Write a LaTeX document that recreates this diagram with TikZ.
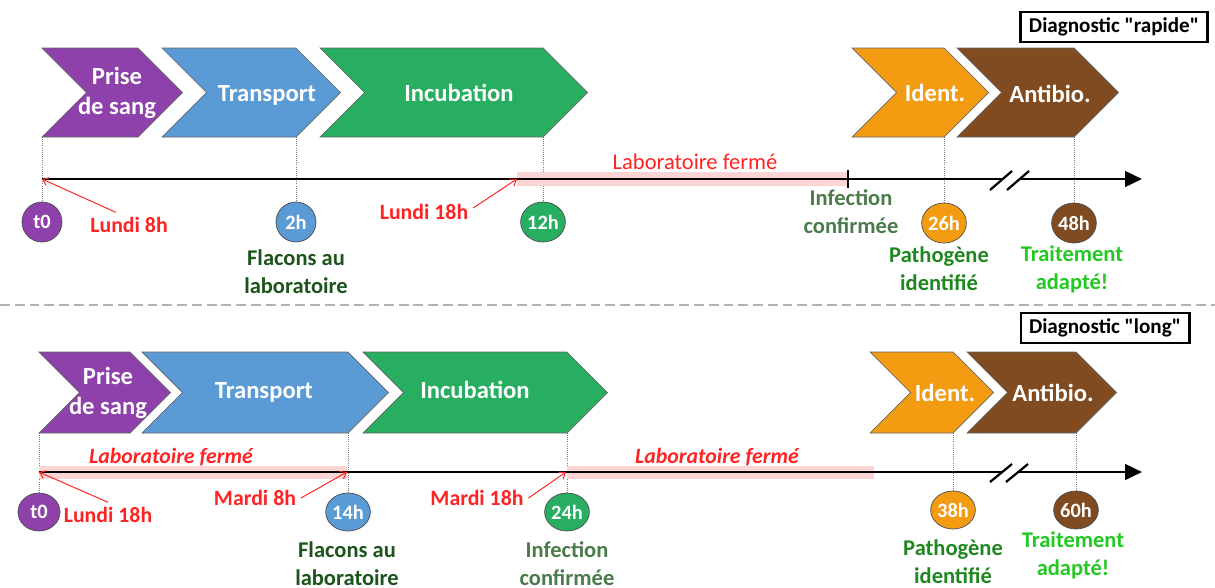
\documentclass[tikz,border=0pt]{standalone}
\usepackage{fontspec}
\setmainfont{Carlito}[Ligatures=TeXOff]
\usetikzlibrary{arrows.meta}
\usetikzlibrary{calc,shapes.geometric}

\definecolor{cpurple}{RGB}{142,65,170}
\definecolor{cblue}{RGB}{91,155,213}
\definecolor{cgreen}{RGB}{39,174,96}
\definecolor{corange}{RGB}{243,156,18}
\definecolor{cbrown}{RGB}{128,75,32}
\definecolor{cred}{RGB}{255,35,35}
\definecolor{cband}{RGB}{252,212,212}
\definecolor{gdark}{RGB}{28,84,28}
\definecolor{ggray}{RGB}{75,122,75}
\definecolor{gmid}{RGB}{32,135,32}
\definecolor{glight}{RGB}{35,200,35}

\newcommand{\chevron}[6]{%
  \pgfmathsetmacro{\chmid}{(#5+#6)/2}%
  \pgfmathsetmacro{\chdep}{(#6-#5)/2}%
  \filldraw[fill=#2,draw=black!60,line width=0.5pt] (#3,#5) -- (#4,#5) -- (#4+\chdep,\chmid) -- (#4,#6) -- (#3,#6) -- (#3+\chdep,\chmid) -- cycle;
  \coordinate (#1-bl) at (#3,#6);
  \coordinate (#1-br) at (#4,#6);
}

\tikzset{
  steptext/.style={text=white,font=\bfseries\fontsize{17.5}{21}\selectfont,align=center},
  hourdot/.style={ellipse,draw=black!70,line width=0.5pt,minimum width=1cm,minimum height=1cm,inner sep=0pt,text=white,font=\bfseries\fontsize{14.5}{17}\selectfont},
  gridline/.style={gray,densely dotted,line width=0.5pt},
  axisline/.style={line width=2pt,-{Triangle[length=12pt,width=11pt]}},
  closedband/.style={fill=cband},
  redlabel/.style={text=cred,font=\bfseries\fontsize{15.5}{18}\selectfont},
  callout/.style={cred,line width=0.7pt,-{Straight Barb[length=4pt,width=6pt]}},
  outcome/.style={font=\bfseries\fontsize{16}{20}\selectfont,align=center},
  diagbox/.style={draw,line width=1.5pt,font=\bfseries\fontsize{15}{18}\selectfont,minimum height=0.73cm,inner xsep=6pt,inner ysep=2pt},
  breakmark/.style={line width=1.6pt},
  separator/.style={gray!60,line width=2pt,dash pattern=on 7pt off 3.5pt},
}

\begin{document}
\begin{tikzpicture}[x=0.025cm,y=-0.025cm]
	\useasboundingbox (0,0) rectangle (1215,587);

	% diagnostic rapide
	\node[diagbox] (diaga) at (1114,27) {Diagnostic "rapide"};
	\chevron{pa}{cpurple}{42}{138}{48}{137}
	\chevron{ta}{cblue}{162}{296}{48}{137}
	\chevron{ia}{cgreen}{320}{543}{48}{137}
	\chevron{da}{corange}{852}{944}{48}{137}
	\chevron{aa}{cbrown}{957}{1074}{48}{137}
	\node[steptext] (prisea) at (117,93) {Prise\\de sang};
	\node[steptext] (transa) at (267,95) {Transport};
	\node[steptext] (incuba) at (459,93) {Incubation};
	\node[steptext] (identa) at (935,93) {Ident.};
	\node[steptext] (antia) at (1050,94) {Antibio.};

	\node[hourdot,fill=cpurple] (t0a) at (42,222) {t0};
	\node[hourdot,fill=cblue] (h2a) at (296,222) {2h};
	\node[hourdot,fill=cgreen] (h12a) at (543,222) {12h};
	\node[hourdot,fill=corange] (h26a) at (944,223) {26h};
	\node[hourdot,fill=cbrown] (h48a) at (1074,223) {48h};
	\foreach \a/\b in {pa-bl/t0a,ta-br/h2a,ia-br/h12a,da-br/h26a,aa-br/h48a}
		\draw[gridline] (\a) -- (\b.north);

	\coordinate (axsa) at (42,179);
	\coordinate (axea) at (1142,179);
	\coordinate (banda) at (517,179);
	\fill[closedband] (517,172) rectangle (848,186);
	\node[text=cred,font=\fontsize{16}{19}\selectfont] (closeda) at (695,162) {Laboratoire fermé};
	\draw[axisline] (axsa) -- (axea);
	\draw[line width=1.2pt] (848,170) -- (848,188);
	\fill[white] (1003,175) rectangle (1019,184);
	\draw[breakmark] (990,190) -- (1012,171);
	\draw[breakmark] (1007,190) -- (1029,171);

	\node[redlabel] (lun8a) at (129,225) {Lundi 8h};
	\draw[callout] ([xshift=-0.33cm]lun8a.north) -- (axsa);
	\node[redlabel] (lun18a) at (424,212) {Lundi 18h};
	\draw[callout] ([yshift=0.1cm]lun18a.east) -- (banda);

	\node[outcome,text=gdark] (flaca) at (296,272) {Flacons au\\laboratoire};
	\node[outcome,text=ggray] (infa) at (851,212) {Infection\\confirmée};
	\node[outcome,text=gmid] (patha) at (939,269) {Pathogène\\identifié};
	\node[outcome,text=glight] (traita) at (1072,269) {Traitement\\adapté!};

	\draw[separator] (0,305) -- (1215,305);

	% diagnostic long
	\node[diagbox] (diagb) at (1105,328) {Diagnostic "long"};
	\chevron{pb}{cpurple}{39}{130}{352}{433}
	\chevron{tb}{cblue}{142}{348}{352}{433}
	\chevron{ib}{cgreen}{363}{567}{352}{433}
	\chevron{db}{corange}{870}{953}{352}{433}
	\chevron{ab}{cbrown}{967}{1076}{352}{433}
	\node[steptext] (priseb) at (108,393) {Prise\\de sang};
	\node[steptext] (transb) at (264,392) {Transport};
	\node[steptext] (incubb) at (475,390) {Incubation};
	\node[steptext] (identb) at (945,393) {Ident.};
	\node[steptext] (antib) at (1053,393) {Antibio.};

	\node[hourdot,fill=cpurple,minimum width=1.05cm,minimum height=0.95cm] (t0b) at (39,512) {t0};
	\node[hourdot,fill=cblue,minimum width=1.05cm,minimum height=0.95cm] (h14b) at (348,512) {14h};
	\node[hourdot,fill=cgreen,minimum width=1.05cm,minimum height=0.95cm] (h24b) at (567,512) {24h};
	\node[hourdot,fill=corange,minimum width=1.05cm,minimum height=0.95cm] (h38b) at (953,510) {38h};
	\node[hourdot,fill=cbrown,minimum width=1.05cm,minimum height=0.95cm] (h60b) at (1076,510) {60h};
	\foreach \a/\b in {pb-bl/t0b,tb-br/h14b,ib-br/h24b,db-br/h38b,ab-br/h60b}
		\draw[gridline] (\a) -- (\b.north);

	\coordinate (axsb) at (39,472);
	\coordinate (axeb) at (1142,472);
	\coordinate (h14bax) at (347,472);
	\coordinate (h24bax) at (566,472);
	\fill[closedband] (39,466) rectangle (347,479);
	\fill[closedband] (567,466) rectangle (874,479);
	\node[text=cred,font=\bfseries\itshape\fontsize{15.5}{18}\selectfont] (closedb1) at (171,457) {Laboratoire fermé};
	\node[text=cred,font=\bfseries\itshape\fontsize{15.5}{18}\selectfont] (closedb2) at (717,457) {Laboratoire fermé};
	\draw[axisline] (axsb) -- (axeb);
	\fill[white] (1003,468) rectangle (1017,477);
	\draw[breakmark] (990,482) -- (1012,464);
	\draw[breakmark] (1006,482) -- (1028,464);

	\node[redlabel] (lun18b) at (108,515) {Lundi 18h};
	\draw[callout] (lun18b.north) -- (axsb);
	\node[redlabel] (mar8b) at (255,498) {Mardi 8h};
	\draw[callout] (mar8b.east) -- (h14bax);
	\node[redlabel] (mar18b) at (477,498) {Mardi 18h};
	\draw[callout] (mar18b.east) -- (h24bax);

	\node[outcome,text=gdark] (flacb) at (347,564) {Flacons au\\laboratoire};
	\node[outcome,text=ggray] (infb) at (567,564) {Infection\\confirmée};
	\node[outcome,text=gmid] (pathb) at (953,562) {Pathogène\\identifié};
	\node[outcome,text=glight] (traitb) at (1073,555) {Traitement\\adapté!};
\end{tikzpicture}
\end{document}
